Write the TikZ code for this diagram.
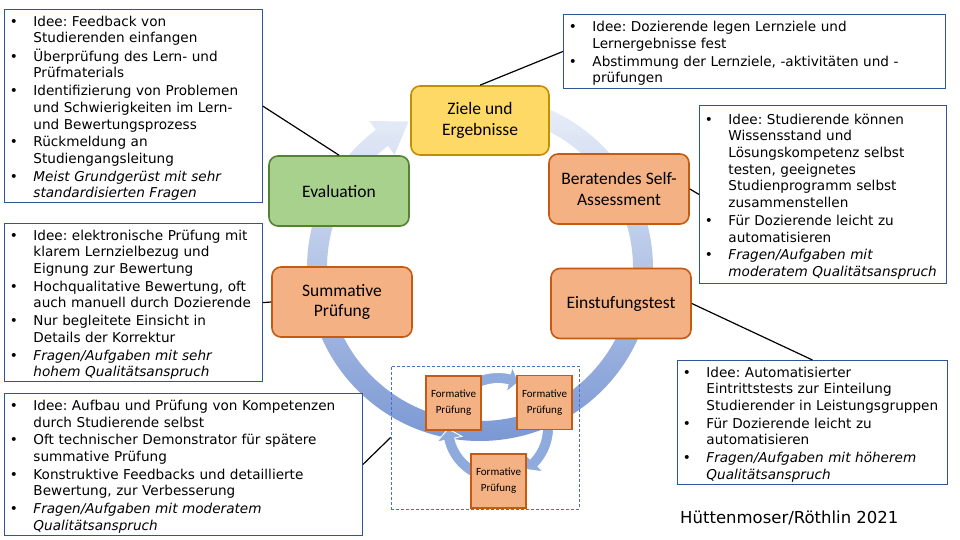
\documentclass[tikz,border=0pt]{standalone}
\usepackage{fontspec}
\setmainfont{Carlito}
\newfontfamily\notefont{DejaVu Sans}[ItalicFont={DejaVu Sans Oblique}]
\usetikzlibrary{calc}
\frenchspacing
\definecolor{noteblue}{HTML}{2F5597}
\definecolor{zfill}{HTML}{FFD966}
\definecolor{zdraw}{HTML}{BF9000}
\definecolor{efill}{HTML}{A9D18E}
\definecolor{edraw}{HTML}{548235}
\definecolor{ofill}{HTML}{F4B183}
\definecolor{odraw}{HTML}{C55A11}
\definecolor{ringtop}{HTML}{EEF2FA}
\definecolor{ringbot}{HTML}{7896D3}
\definecolor{smallblue}{HTML}{8FAADC}
\definecolor{dashblue}{HTML}{4472C4}
\newcommand\nitem[1]{\par\noindent\hspace*{5.5pt}\makebox[23.5pt][l]{\textbullet}\begin{tabular}[t]{@{}l@{}}#1\end{tabular}\par}
\tikzset{
  note/.style={draw=noteblue, line width=0.9pt, inner sep=0pt, anchor=north west,
    font=\notefont\fontsize{13.6}{16.7}\selectfont, align=left},
  stage/.style={rounded corners=9pt, line width=1.6pt, minimum width=140pt,
    minimum height=70pt, align=center, inner sep=2pt,
    font=\fontsize{17.5}{20.5}\selectfont},
  orangestage/.style={stage, fill=ofill, draw=odraw},
  formbox/.style={fill=ofill, draw=odraw, line width=1.6pt, minimum width=55pt,
    minimum height=54pt, inner sep=0pt, align=center,
    font=\fontsize{11}{16}\selectfont},
  smallarrow/.style={fill=smallblue, draw=white, line width=0.9pt},
  conn/.style={draw=black, line width=1.2pt},
  dashframe/.style={draw=dashblue, line width=0.8pt, dash pattern=on 3pt off 2pt,
    minimum width=188pt, minimum height=143pt, inner sep=0pt}
}
\begin{document}
\begin{tikzpicture}[x=1pt,y=1pt]
\useasboundingbox (0,0) rectangle (960,540);
\fill[white] (0,0) rectangle (960,540);

% big cycle ring
\begin{scope}[shift={(480,272)}]
\shade[top color=ringtop, bottom color=ringbot]
  (95:173) arc[start angle=95, end angle=-233, radius=173]
  -- (-233:184) -- (-244:163) -- (-233:142) -- (-233:153)
  arc[start angle=-233, end angle=95, radius=153] -- cycle;
\end{scope}

% small formative cycle
\begin{scope}[shift={(498,112)}]
\path[smallarrow] (120:55.5) arc[start angle=120, end angle=77, radius=55.5]
  -- (77:63) -- (66:50) -- (77:37) -- (77:44.5)
  arc[start angle=77, end angle=120, radius=44.5] -- cycle;
\path[smallarrow] (5:55.5) arc[start angle=5, end angle=-44, radius=55.5]
  -- (-44:63) -- (-56:50) -- (-44:37) -- (-44:44.5)
  arc[start angle=-44, end angle=5, radius=44.5] -- cycle;
\path[smallarrow] (245:55.5) arc[start angle=245, end angle=193, radius=55.5]
  -- (193:63) -- (181:50) -- (193:37) -- (193:44.5)
  arc[start angle=193, end angle=245, radius=44.5] -- cycle;
\end{scope}

\node[formbox] (f1) at (453.5,137) {Formative\\Prüfung};
\node[formbox] (f2) at (544.5,137.5) {Formative\\Prüfung};
\node[formbox] (f3) at (498.5,59) {Formative\\Prüfung};
\node[dashframe] (dash) at (485,102.5) {};

% stages
\node[stage, fill=zfill, draw=zdraw, minimum width=138pt, minimum height=69pt] (ziele) at (480,419.5) {Ziele und\\Ergebnisse};
\node[stage, fill=efill, draw=edraw] (eval) at (339,349) {Evaluation};
\node[orangestage] (sa) at (619,351) {Beratendes Self-\\Assessment};
\node[orangestage] (sum) at (342,238) {Summative\\Prüfung};
\node[orangestage] (einst) at (621,236.5) {Einstufungstest};

% notes
\node[note, text width=258pt, minimum height=193pt] (noteA) at (4,531) {%
\nitem{Idee: Feedback von\\Studierenden einfangen}%
\nitem{Überprüfung des Lern- und\\Prüfmaterials}%
\nitem{Identifizierung von Problemen\\und Schwierigkeiten im Lern-\\und Bewertungsprozess}%
\nitem{Rückmeldung an\\Studiengangsleitung}%
\nitem{\textit{Meist Grundgerüst mit sehr}\\\textit{standardisierten Fragen}}};

\node[note, text width=382pt, minimum height=74pt] (noteB) at (563,526) {%
\nitem{Idee: Dozierende legen Lernziele und\\Lernergebnisse fest}%
\nitem{Abstimmung der Lernziele, -aktivitäten und -\\prüfungen}};

\node[note, text width=247pt, minimum height=178pt] (noteC) at (699,435) {%
\nitem{Idee: Studierende können\\Wissensstand und\\Lösungskompetenz selbst\\testen, geeignetes\\Studienprogramm selbst\\zusammenstellen}%
\nitem{Für Dozierende leicht zu\\automatisieren}%
\nitem{\textit{Fragen/Aufgaben mit}\\\textit{moderatem Qualitätsanspruch}}};

\node[note, text width=258pt, minimum height=158pt] (noteD) at (4,317) {%
\nitem{Idee: elektronische Prüfung mit\\klarem Lernzielbezug und\\Eignung zur Bewertung}%
\nitem{Hochqualitative Bewertung, oft\\auch manuell durch Dozierende}%
\nitem{Nur begleitete Einsicht in\\Details der Korrektur}%
\nitem{\textit{Fragen/Aufgaben mit sehr}\\\textit{hohem Qualitätsanspruch}}};

\node[note, text width=358pt, minimum height=142pt] (noteE) at (4,147) {%
\nitem{Idee: Aufbau und Prüfung von Kompetenzen\\durch Studierende selbst}%
\nitem{Oft technischer Demonstrator für spätere\\summative Prüfung}%
\nitem{Konstruktive Feedbacks und detaillierte\\Bewertung, zur Verbesserung}%
\nitem{\textit{Fragen/Aufgaben mit moderatem}\\\textit{Qualitätsanspruch}}};

\node[note, text width=270pt, minimum height=123pt] (noteF) at (677,180) {%
\nitem{Idee: Automatisierter\\Eintrittstests zur Einteilung\\Studierender in Leistungsgruppen}%
\nitem{Für Dozierende leicht zu\\automatisieren}%
\nitem{\textit{Fragen/Aufgaben mit höherem}\\\textit{Qualitätsanspruch}}};

\node[anchor=west, inner sep=0pt, font=\notefont\fontsize{16.5}{19}\selectfont] (credit) at (680,22) {Hüttenmoser/Röthlin 2021};

% connectors
\draw[conn] (ziele.north) -- (noteB.west);
\draw[conn] (eval.north) -- (noteA.east);
\draw[conn] (sa.east) -- (noteC.west);
\draw[conn] (sum.west) -- (noteD.east);
\draw[conn] (einst.east) -- (noteF.north);
\draw[conn] (noteE.east) -- (dash.west);
\end{tikzpicture}
\end{document}
